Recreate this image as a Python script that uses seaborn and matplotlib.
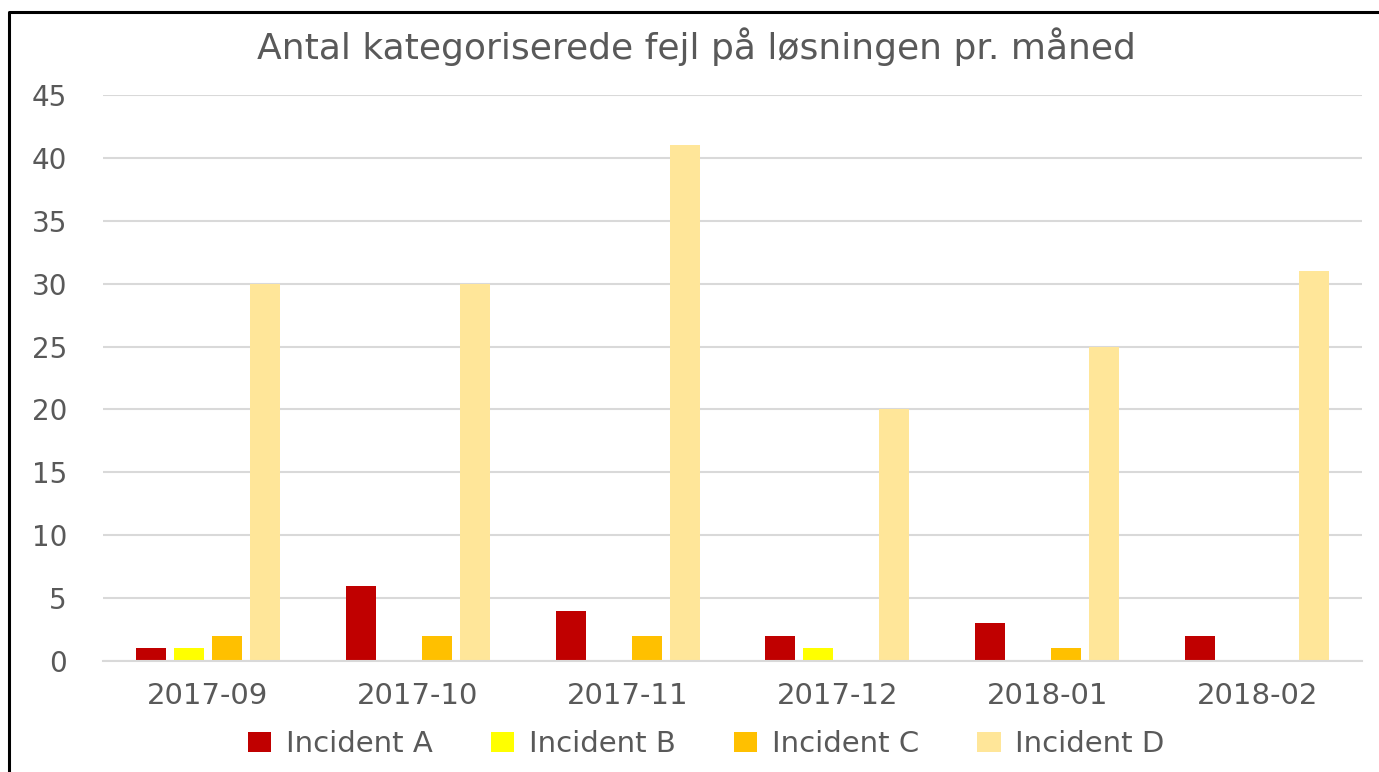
import matplotlib
matplotlib.use("Agg")
import matplotlib.pyplot as plt
from matplotlib.lines import Line2D
import pandas as pd
import seaborn as sns

months = ["2017-09", "2017-10", "2017-11", "2017-12", "2018-01", "2018-02"]
incident_a = [1, 6, 4, 2, 3, 2]
incident_b = [1, 0, 0, 1, 0, 0]
incident_c = [2, 2, 2, 0, 1, 0]
incident_d = [30, 30, 41, 20, 25, 31]
series_names = ["Incident A", "Incident B", "Incident C", "Incident D"]
colors = ["#C00000", "#FFFF00", "#FFC000", "#FFE699"]

rows = []
for name, vals in zip(series_names, [incident_a, incident_b, incident_c, incident_d]):
    for m, v in zip(months, vals):
        rows.append({"month": m, "series": name, "count": v})
df = pd.DataFrame(rows)

sns.set_theme(style="white")
plt.rcParams["font.family"] = ["DejaVu Sans"]
text_color = "#595959"
grid_color = "#D9D9D9"

fig = plt.figure(figsize=(13.79, 7.72), dpi=100)
ax = fig.add_axes([0.0747, 0.1438, 0.913, 0.7332])

sns.barplot(
    data=df, x="month", y="count", hue="series",
    hue_order=series_names, palette=colors, saturation=1,
    width=0.724, gap=0.21, linewidth=0, ax=ax, legend=True,
)

ax.set_ylim(0, 45)
ax.set_yticks(range(0, 46, 5))
ax.set_xlim(-0.5, len(months) - 0.5)
ax.yaxis.grid(True, color=grid_color, linewidth=1.5)
ax.set_axisbelow(True)
for side in ["top", "right", "left"]:
    ax.spines[side].set_visible(False)
ax.spines["bottom"].set_color(grid_color)
ax.spines["bottom"].set_linewidth(1.5)
ax.set_xlabel("")
ax.set_ylabel("")
ax.tick_params(axis="y", length=0, pad=26, labelsize=20, labelcolor=text_color)
ax.tick_params(axis="x", length=0, pad=15, labelsize=21, labelcolor=text_color)

fig.suptitle("Antal kategoriserede fejl på løsningen pr. måned",
             x=0.505, y=0.939, va="center", fontsize=26, color=text_color)

handles, labels = ax.get_legend_handles_labels()
ax.get_legend().remove()
fig.legend(handles, labels, loc="center", bbox_to_anchor=(0.512, 0.036),
           ncol=4, frameon=False, fontsize=21, labelcolor=text_color,
           handlelength=0.8, handleheight=0.65, handletextpad=0.5,
           columnspacing=2.0)

# outer frame (top and left edges visible in the reference)
fx = 9 / 1379
fy = 1 - 12 / 772
fig.add_artist(Line2D([fx, fx, 1.0], [0.0, fy, fy], color="black",
                      linewidth=2.2, transform=fig.transFigure))

fig.savefig("out.png", dpi=100)
